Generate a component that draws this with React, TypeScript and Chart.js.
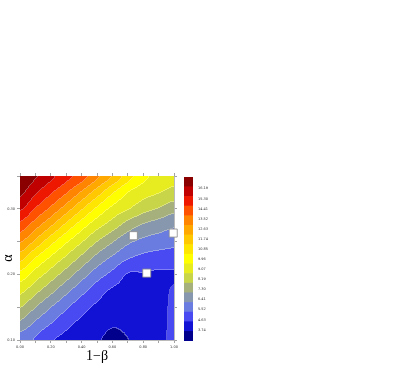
import React, { useEffect, useRef } from 'react';
import { Chart, registerables } from 'chart.js';
Chart.register(...registerables);

// Grid of the surface: columns are 1-beta, rows are alpha (top row first)
const X_GRID = [0, 0.1, 0.2, 0.3, 0.4, 0.5, 0.6, 0.7, 0.8, 0.9, 1.0];
const ALPHA_GRID = [0.35, 0.325, 0.3, 0.275, 0.25, 0.225, 0.2, 0.175, 0.15, 0.125, 0.1];

const Z_A350 = [17.12, 16.46, 15.74, 14.98, 14.26, 13.16, 12.10, 10.84, 9.81, 9.30, 8.96];
const Z_A325 = [16.59, 15.65, 14.79, 13.92, 12.87, 11.72, 10.54, 9.58, 9.07, 8.75, 8.45];
const Z_A300 = [15.67, 14.62, 13.66, 12.57, 11.38, 10.26, 9.35, 8.79, 8.20, 7.81, 7.31];
const Z_A275 = [14.40, 13.37, 12.27, 11.06, 9.98, 9.05, 8.31, 7.50, 6.92, 6.59, 6.30];
const Z_A250 = [13.07, 11.96, 10.74, 9.71, 8.80, 7.88, 7.09, 6.36, 5.95, 5.77, 5.62];
const Z_A225 = [11.62, 10.42, 9.45, 8.57, 7.67, 6.74, 6.03, 5.40, 5.09, 4.94, 4.85];
const Z_A200 = [10.14, 9.20, 8.35, 7.48, 6.57, 5.73, 5.09, 4.41, 4.40, 4.32, 4.38];
const Z_A175 = [8.97, 8.12, 7.28, 6.40, 5.60, 4.86, 4.34, 4.22, 4.28, 4.21, 4.52];
const Z_A150 = [7.90, 7.05, 6.19, 5.47, 4.76, 4.31, 4.03, 4.01, 4.15, 4.18, 4.58];
const Z_A125 = [6.81, 6.00, 5.33, 4.69, 4.27, 4.00, 3.70, 3.80, 4.03, 4.18, 4.60];
const Z_A100 = [5.68, 5.22, 4.54, 4.25, 3.98, 3.71, 3.39, 3.58, 3.90, 4.20, 4.62];

const Z = [Z_A350, Z_A325, Z_A300, Z_A275, Z_A250, Z_A225, Z_A200, Z_A175, Z_A150, Z_A125, Z_A100];

// Contour levels and colour bar
const CB_MIN = 2.75;
const CB_MAX = 17.2;
const LEVELS = [3.60, 4.45, 5.30, 6.15, 7.00, 7.85, 8.70, 9.55, 10.40, 11.25, 12.10, 12.95, 13.80, 14.65, 15.50, 16.35];
const BAND_COLORS = [
  '#00008c', '#1212d4', '#4a4af2', '#6b7ce0', '#8797ae', '#a5b07c', '#c9d548', '#e6ec20',
  '#ffff00', '#ffe600', '#ffc800', '#ffa800', '#ff8400', '#ff5200', '#ee1800', '#c00000', '#8a0000',
];
const CB_TICKS = [3.74, 4.63, 5.52, 6.41, 7.30, 8.19, 9.07, 9.96, 10.85, 11.74, 12.63, 13.52, 14.41, 15.30, 16.19];

// Marked points
const MARK_X = [0.736, 0.995, 0.823];
const MARK_Y = [0.259, 0.263, 0.202];

const X_TITLE = '1\u2212\u03b2';
const Y_TITLE = '\u03b1';

const TICK_FONT = { family: 'DejaVu Sans', size: 3.5 };

function clamp(v: number, a: number, b: number) {
  return v < a ? a : v > b ? b : v;
}
function cr(p0: number, p1: number, p2: number, p3: number, t: number) {
  return 0.5 * (2 * p1 + (-p0 + p2) * t + (2 * p0 - 5 * p1 + 4 * p2 - p3) * t * t + (-p0 + 3 * p1 - 3 * p2 + p3) * t * t * t);
}
function sample(xv: number, yv: number) {
  const nx = X_GRID.length;
  const ny = ALPHA_GRID.length;
  const u = clamp((xv - X_GRID[0]) / (X_GRID[1] - X_GRID[0]), 0, nx - 1);
  const v = clamp((yv - ALPHA_GRID[0]) / (ALPHA_GRID[1] - ALPHA_GRID[0]), 0, ny - 1);
  const i = Math.min(Math.floor(u), nx - 2);
  const j = Math.min(Math.floor(v), ny - 2);
  const tu = u - i;
  const tv = v - j;
  const g = (r: number, c: number) => Z[clamp(r, 0, ny - 1)][clamp(c, 0, nx - 1)];
  const rows: number[] = [];
  for (let k = -1; k <= 2; k++) {
    const r = j + k;
    rows.push(cr(g(r, i - 1), g(r, i), g(r, i + 1), g(r, i + 2), tu));
  }
  return cr(rows[0], rows[1], rows[2], rows[3], tv);
}
function hexToRgb(h: string) {
  const n = parseInt(h.slice(1), 16);
  return [(n >> 16) & 255, (n >> 8) & 255, n & 255];
}

const contourPlugin = {
  id: 'contourFill',
  beforeDatasetsDraw(chart: any) {
    const { ctx, chartArea: a, scales } = chart;
    const xs = scales.x;
    const ys = scales.y;
    const left = Math.round(a.left);
    const top = Math.round(a.top);
    const w = Math.round(a.right) - left;
    const h = Math.round(a.bottom) - top;
    const off = document.createElement('canvas');
    off.width = w;
    off.height = h;
    const octx = off.getContext('2d')!;
    const img = octx.createImageData(w, h);
    const bands = new Int16Array(w * h);
    for (let j = 0; j < h; j++) {
      const yv = ys.getValueForPixel(top + j + 0.5);
      for (let i = 0; i < w; i++) {
        const xv = xs.getValueForPixel(left + i + 0.5);
        const z = sample(xv, yv);
        let b = 0;
        while (b < LEVELS.length && z >= LEVELS[b]) b++;
        bands[j * w + i] = b;
      }
    }
    const rgb = BAND_COLORS.map(hexToRgb);
    for (let j = 0; j < h; j++) {
      for (let i = 0; i < w; i++) {
        const b = bands[j * w + i];
        let [r, g, bl] = rgb[b];
        const edge =
          (i + 1 < w && bands[j * w + i + 1] !== b) || (j + 1 < h && bands[(j + 1) * w + i] !== b);
        if (edge) {
          const f = 0.3;
          r = r + (255 - r) * f;
          g = g + (255 - g) * f;
          bl = bl + (255 - bl) * f;
        }
        const p = (j * w + i) * 4;
        img.data[p] = r;
        img.data[p + 1] = g;
        img.data[p + 2] = bl;
        img.data[p + 3] = 255;
      }
    }
    octx.putImageData(img, 0, 0);
    ctx.save();
    ctx.drawImage(off, left, top);
    ctx.restore();
  },
};

export default function App() {
  const mainRef = useRef<HTMLCanvasElement>(null);
  const cbRef = useRef<HTMLCanvasElement>(null);

  useEffect(() => {
    const axisGrid = { drawOnChartArea: false, tickLength: 3, color: '#8c8c8c', lineWidth: 0.8 };
    const axisBorder = { display: true, color: '#a8a8a8', width: 0.8 };
    const main = new Chart(mainRef.current!, {
      type: 'scatter',
      data: {
        datasets: [
          {
            data: MARK_X.map((x, i) => ({ x, y: MARK_Y[i] })),
            pointStyle: 'rect',
            pointRadius: 5.7,
            pointHoverRadius: 5.7,
            backgroundColor: '#ffffff',
            borderColor: '#8a8a8a',
            borderWidth: 0.8,
            clip: false,
          } as any,
        ],
      },
      options: {
        animation: false,
        responsive: false,
        maintainAspectRatio: false,
        events: [],
        layout: { padding: { left: 0, top: 172, right: 237, bottom: 0 } },
        plugins: { legend: { display: false }, tooltip: { enabled: false } },
        scales: {
          x: {
            type: 'linear',
            position: 'bottom',
            min: 0,
            max: 1,
            afterFit: (s: any) => {
              s.height = 25;
            },
            ticks: {
              stepSize: 0.1,
              autoSkip: false,
              maxRotation: 0,
              padding: 2,
              font: TICK_FONT,
              color: '#333',
              callback: (v: any) => (Math.round(v * 10) % 2 === 0 ? Number(v).toFixed(2) : ''),
            },
            grid: axisGrid,
            border: axisBorder,
            title: {
              display: true,
              text: X_TITLE,
              font: { family: 'Liberation Serif', size: 14 },
              color: '#000',
              padding: 0,
            },
          },
          x2: {
            type: 'linear',
            position: 'top',
            min: 0,
            max: 1,
            afterFit: (s: any) => {
              s.height = 4;
            },
            ticks: { stepSize: 0.1, display: false },
            grid: axisGrid,
            border: axisBorder,
          },
          y: {
            type: 'linear',
            position: 'left',
            min: 0.1,
            max: 0.35,
            afterFit: (s: any) => {
              s.width = 20;
            },
            ticks: {
              stepSize: 0.05,
              autoSkip: false,
              padding: 2,
              font: TICK_FONT,
              color: '#333',
              callback: (v: any) => (Math.round(v * 100) % 10 === 0 ? Number(v).toFixed(2) : ''),
            },
            grid: axisGrid,
            border: axisBorder,
            title: {
              display: true,
              text: Y_TITLE,
              font: { family: 'Liberation Serif', size: 14 },
              color: '#000',
              padding: 0,
            },
          },
          y2: {
            type: 'linear',
            position: 'right',
            min: 0.1,
            max: 0.35,
            afterFit: (s: any) => {
              s.width = 4;
            },
            ticks: { stepSize: 0.05, display: false },
            grid: axisGrid,
            border: axisBorder,
          },
        },
      } as any,
      plugins: [contourPlugin],
    });

    const edges = [CB_MIN, ...LEVELS, CB_MAX];
    const cb = new Chart(cbRef.current!, {
      type: 'bar',
      data: {
        labels: [''],
        datasets: BAND_COLORS.map((c, k) => ({
          data: [[edges[k], edges[k + 1]]],
          backgroundColor: c,
          borderWidth: 0,
          barPercentage: 1,
          categoryPercentage: 1,
          grouped: false,
        })) as any,
      },
      options: {
        animation: false,
        responsive: false,
        maintainAspectRatio: false,
        events: [],
        layout: { padding: { left: 14, top: 6, right: 12, bottom: 9 } },
        plugins: { legend: { display: false }, tooltip: { enabled: false } },
        scales: {
          x: { display: false },
          y: {
            position: 'right',
            min: CB_MIN,
            max: CB_MAX,
            afterFit: (s: any) => {
              s.width = 25;
            },
            afterBuildTicks: (s: any) => {
              s.ticks = CB_TICKS.map((v) => ({ value: v }));
            },
            ticks: {
              padding: 5,
              font: TICK_FONT,
              color: '#333',
              callback: (v: any) => Number(v).toFixed(2),
            },
            grid: { display: false, drawTicks: false },
            border: { display: false },
          },
        },
      } as any,
    });

    return () => {
      main.destroy();
      cb.destroy();
    };
  }, []);

  return (
    <div style={{ position: 'fixed', left: 0, top: 0, width: 415, height: 365, background: '#fff' }}>
      <canvas
        ref={mainRef}
        width={415}
        height={365}
        style={{ position: 'absolute', left: 0, top: 0, width: 415, height: 365 }}
      />
      <canvas
        ref={cbRef}
        width={60}
        height={180}
        style={{ position: 'absolute', left: 170, top: 170, width: 60, height: 180 }}
      />
    </div>
  );
}
